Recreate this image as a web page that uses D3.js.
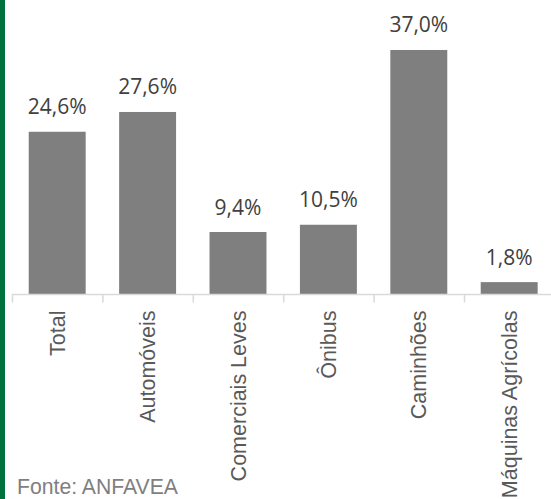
<!DOCTYPE html>
<html>
<head>
<meta charset="utf-8">
<script src="https://cdn.jsdelivr.net/npm/d3@7"></script>
<style>
  html, body { margin: 0; padding: 0; background: #fff; }
  svg { display: block; }
</style>
</head>
<body>
<div id="chart"></div>
<script>
// Vendas por segmento — variação percentual
const categories = ["Total", "Automóveis", "Comerciais Leves", "Ônibus", "Caminhões", "Máquinas Agrícolas"];
const values = [24.6, 27.6, 9.4, 10.5, 37.0, 1.8];
const sourceNote = "Fonte: ANFAVEA";

const width = 551, height = 499;
const svg = d3.select("#chart").append("svg")
  .attr("width", width).attr("height", height);

// green accent strip on the left edge
svg.append("rect")
  .attr("x", 0).attr("y", 0)
  .attr("width", 5).attr("height", height)
  .attr("fill", "#00703c");

const x = d3.scaleBand()
  .domain(categories)
  .range([12, 554.4])
  .paddingInner(0.37)
  .paddingOuter(0.185);

const y = d3.scaleLinear()
  .domain([0, 40])
  .range([294, 30.2]);

const fmt = v => d3.format(".1f")(v).replace(".", ",") + "%";

// bars
svg.append("g")
  .selectAll("rect")
  .data(values)
  .join("rect")
  .attr("x", (d, i) => x(categories[i]))
  .attr("y", d => y(d))
  .attr("width", x.bandwidth())
  .attr("height", d => y(0) - y(d))
  .attr("fill", "#7f7f7f");

// value labels
svg.append("g")
  .selectAll("text")
  .data(values)
  .join("text")
  .attr("x", (d, i) => x(categories[i]) + x.bandwidth() / 2)
  .attr("y", d => y(d) - 17.5)
  .attr("text-anchor", "middle")
  .attr("font-family", "'Open Sans', sans-serif")
  .attr("font-size", 21)
  .attr("fill", "#404040")
  .text(d => fmt(d));

// category axis: baseline and boundary ticks
const axis = svg.append("g");
axis.append("line")
  .attr("x1", 12).attr("x2", width)
  .attr("y1", y(0) + 0.5).attr("y2", y(0) + 0.5)
  .attr("stroke", "#d9d9d9").attr("stroke-width", 1.5);

const boundaries = d3.range(categories.length).map(i => x.range()[0] + i * x.step());
axis.selectAll("line.tick")
  .data(boundaries)
  .join("line")
  .attr("class", "tick")
  .attr("x1", d => d + 0.5).attr("x2", d => d + 0.5)
  .attr("y1", y(0)).attr("y2", y(0) + 8.5)
  .attr("stroke", "#d9d9d9").attr("stroke-width", 1.5);

axis.selectAll("text")
  .data(categories)
  .join("text")
  .attr("transform", d => `translate(${x(d) + x.bandwidth() / 2},310.5) rotate(-90)`)
  .attr("dy", "0.35em")
  .attr("text-anchor", "end")
  .attr("font-family", "'Liberation Sans', Arial, sans-serif")
  .attr("font-size", 21.5)
  .attr("fill", "#595959")
  .text(d => d);

// source note
svg.append("text")
  .attr("x", 17)
  .attr("y", 494)
  .attr("font-family", "'Liberation Sans', Arial, sans-serif")
  .attr("font-size", 21.2)
  .attr("fill", "#7f7f7f")
  .text(sourceNote);
</script>
</body>
</html>
